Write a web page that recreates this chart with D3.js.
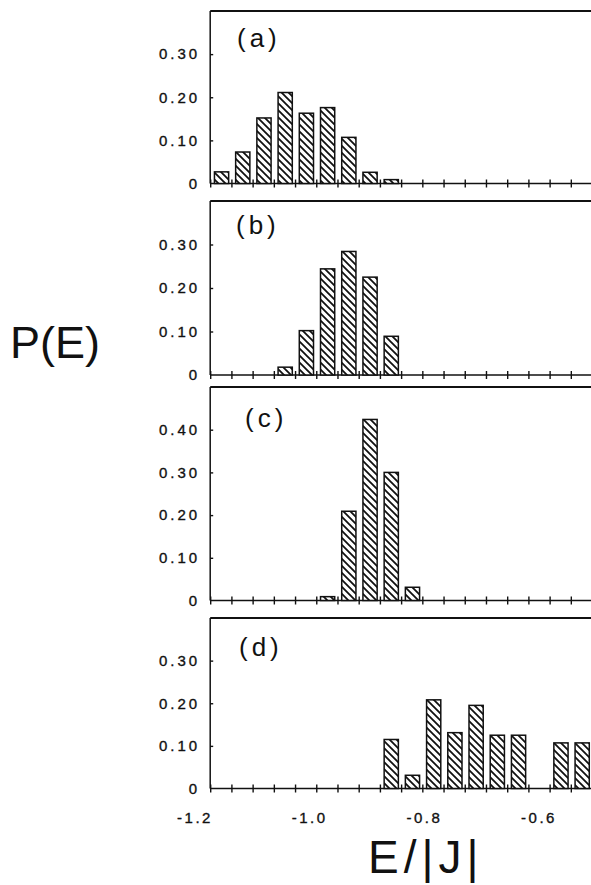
<!DOCTYPE html>
<html>
<head>
<meta charset="utf-8">
<script src="https://cdn.jsdelivr.net/npm/d3@7"></script>
<style>
  body { margin: 0; background: #fff; }
  svg { display: block; }
  text { font-family: "Liberation Sans", Arial, sans-serif; fill: #111; }
</style>
</head>
<body>
<svg id="chart" width="591" height="885"></svg>
<script>
// the energy bins, same for all four panels
var binStart = -1.17;
var binWidth = 0.037;
var binCount = 18;

// P(E) in each bin
var panelNames = ["(a)", "(b)", "(c)", "(d)"];
var probA = [0.027, 0.073, 0.152, 0.211, 0.163, 0.176, 0.107, 0.026, 0.009, 0, 0, 0, 0, 0, 0, 0, 0, 0];
var probB = [0, 0, 0, 0.018, 0.102, 0.244, 0.284, 0.225, 0.089, 0, 0, 0, 0, 0, 0, 0, 0, 0];
var probC = [0, 0, 0, 0, 0, 0.009, 0.209, 0.424, 0.300, 0.031, 0, 0, 0, 0, 0, 0, 0, 0];
var probD = [0, 0, 0, 0, 0, 0, 0, 0, 0.115, 0.031, 0.208, 0.131, 0.195, 0.125, 0.125, 0, 0.107, 0.107];
var yMaxes = [0.40, 0.40, 0.50, 0.40];
var yTicksShort = [0, 0.10, 0.20, 0.30];
var yTicksTall = [0, 0.10, 0.20, 0.30, 0.40];
var xTickLabels = [-1.2, -1.0, -0.8, -0.6];

// where each panel sits on the page
var panelBoxes = [
  {top: 11, base: 183.5, labelX: 237, labelY: 47},
  {top: 201, base: 375, labelX: 236, labelY: 234},
  {top: 387, base: 600.5, labelX: 245, labelY: 427},
  {top: 618, base: 788.5, labelX: 239, labelY: 656}
];
var allProbs = [probA, probB, probC, probD];

var svg = d3.select("#chart");
var rightEdge = 591;

var x = d3.scaleLinear().domain([-1.2, -0.6]).range([193, 537]);
var axisX = x(binStart);
var binPx = x(binStart + binWidth) - x(binStart);

// hatch fill for the bars
var pat = svg.append("defs").append("pattern")
  .attr("id", "hatch")
  .attr("patternUnits", "userSpaceOnUse")
  .attr("width", 7).attr("height", 7);
pat.append("rect").attr("width", 7).attr("height", 7).attr("fill", "#fff");
pat.append("path")
  .attr("d", "M-1,-1 L8,8 M-1,6 L1,8 M6,-1 L8,1")
  .attr("stroke", "#111").attr("stroke-width", 1.8);

var binEdges = d3.range(binCount).map(i => binStart + i * binWidth);

function styleTickText(sel, spacing) {
  sel.style("font-size", "15px").style("letter-spacing", spacing)
    .style("font-family", '"Liberation Sans", Arial, sans-serif')
    .attr("fill", "#111").attr("stroke", "#111").attr("stroke-width", 0.35);
}

function drawPanel(k) {
  let box = panelBoxes[k];
  let probs = allProbs[k];
  let y = d3.scaleLinear().domain([0, yMaxes[k]]).range([box.base, box.top]);
  let g = svg.append("g");

  // frame: top line, left axis, baseline
  g.append("line").attr("x1", axisX).attr("x2", rightEdge)
    .attr("y1", box.top).attr("y2", box.top)
    .attr("stroke", "#111").attr("stroke-width", 2.2);
  g.append("line").attr("x1", axisX).attr("x2", axisX)
    .attr("y1", box.top).attr("y2", box.base)
    .attr("stroke", "#111").attr("stroke-width", 1.5);
  g.append("line").attr("x1", axisX).attr("x2", rightEdge)
    .attr("y1", box.base).attr("y2", box.base)
    .attr("stroke", "#111").attr("stroke-width", 1.6);

  // x ticks cross the baseline
  g.append("g").attr("transform", `translate(0,${box.base})`)
    .call(d3.axisBottom(x).tickValues(binEdges).tickSize(4).tickFormat(""))
    .call(a => a.select(".domain").remove())
    .call(a => a.selectAll(".tick line").attr("y1", -4).attr("stroke", "#111").attr("stroke-width", 1.4));

  // y ticks and labels
  let yTicks = yMaxes[k] > 0.45 ? yTicksTall : yTicksShort;
  g.append("g").attr("transform", `translate(${axisX},0)`)
    .call(d3.axisLeft(y).tickValues(yTicks).tickSize(3)
      .tickFormat(v => v == 0 ? "0" : d3.format(".2f")(v)))
    .call(a => a.select(".domain").remove())
    .call(a => a.selectAll(".tick line").attr("x2", 3).attr("stroke", "#111").attr("stroke-width", 1.4)
      .filter(v => v == 0).remove())
    .call(a => a.selectAll(".tick text").attr("x", -10).call(styleTickText, "3px"));

  // bars
  let bars = probs.map((p, i) => ({e: binEdges[i], p: p})).filter(d => d.p > 0);
  g.selectAll("rect.bar").data(bars).enter().append("rect")
    .attr("class", "bar")
    .attr("x", d => x(d.e) + 0.2 * binPx)
    .attr("width", 0.67 * binPx)
    .attr("y", d => y(d.p))
    .attr("height", d => y(0) - y(d.p))
    .attr("fill", "url(#hatch)")
    .attr("stroke", "#111").attr("stroke-width", 1.5);

  // panel letter
  g.append("text").attr("x", box.labelX).attr("y", box.labelY)
    .style("font-size", "26px").style("letter-spacing", "4px")
    .text(panelNames[k]);
}

for (let k = 0; k < 4; k++) {
  drawPanel(k);
}

// x labels under the last panel
svg.append("g").selectAll("text").data(xTickLabels).enter().append("text")
  .attr("x", d => x(d) + 2)
  .attr("y", 823)
  .attr("text-anchor", "middle")
  .call(styleTickText, "2.5px")
  .text(d => d3.format(".1f")(d).replace("−", "-"));

// big axis titles
svg.append("text").attr("x", 10).attr("y", 358)
  .style("font-size", "45px").text("P(E)");
svg.append("text").attr("x", 368).attr("y", 873)
  .style("font-size", "46px").style("letter-spacing", "5px").text("E/|J|");
</script>
</body>
</html>
